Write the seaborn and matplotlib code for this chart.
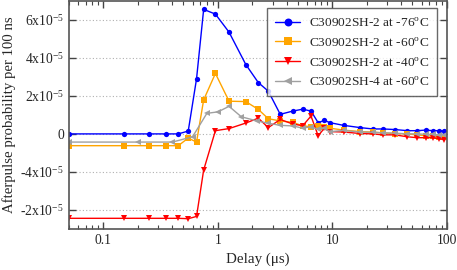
import matplotlib
matplotlib.use("Agg")
import matplotlib.pyplot as plt
import matplotlib.ticker as ticker
import pandas as pd
import seaborn as sns

# values in units of 1e-5 (afterpulse probability per 100 ns)
delay_main = [0.05, 0.15, 0.25, 0.35, 0.45, 0.55, 0.65, 0.75, 0.95, 1.25, 1.75, 2.25, 2.75,
              3.5, 4.5, 5.5, 6.5, 7.5, 8.5, 9.5, 12.5, 17.5, 22.5, 27.5, 35, 45, 55, 65, 75, 85, 95]
sh2_m76 = [0.0, 0.0, 0.0, 0.0, 0.0, 0.15, 2.9, 6.55, 6.3, 5.35, 3.65, 2.7, 2.25,
           1.03, 1.2, 1.3, 1.2, 0.59, 0.71, 0.59, 0.45, 0.33, 0.26, 0.26, 0.23, 0.17, 0.17, 0.2, 0.17, 0.17, 0.15]
sh2_m60 = [-0.62, -0.62, -0.62, -0.62, -0.62, -0.22, -0.43, 1.79, 3.18, 1.72, 1.7, 1.29, 0.8,
           0.68, 0.61, 0.42, 0.38, 0.42, 0.35, 0.3, 0.2, 0.12, 0.1, 0.05, 0.02, 0.0, -0.05, -0.1, -0.12, -0.14, -0.15]
sh2_m40 = [-4.44, -4.44, -4.44, -4.44, -4.44, -4.46, -4.34, -1.9, 0.17, 0.28, 0.57, 0.83, 0.33,
           0.76, 0.52, 0.43, 0.94, -0.1, 0.3, 0.12, 0.1, 0.02, 0.0, -0.05, -0.05, -0.15, -0.2, -0.2, -0.2, -0.25, -0.3]

delay_sh4 = [0.05, 0.2, 0.4, 0.6, 0.8, 1.0, 1.25, 1.6, 2.2, 2.75, 3.5, 4.5, 5.5, 6.5, 7.5, 8.5, 9.5,
             12.5, 17.5, 22.5, 27.5, 35, 45, 55, 65, 75, 85, 95]
sh4_m60 = [-0.43, -0.43, -0.43, -0.15, 1.08, 1.16, 1.45, 0.9, 0.68, 0.56, 0.45, 0.42, 0.3, 0.38, 0.24,
           0.3, 0.12, 0.18, 0.1, 0.08, 0.06, 0.04, 0.0, 0.0, -0.02, -0.03, -0.05, -0.05]

ytick_pos = [6, 4, 2, 0, -2, -4]
ytick_labels = ['6x10$^{\\mathregular{-5}}$', '4x10$^{\\mathregular{-5}}$', '2x10$^{\\mathregular{-5}}$', '0',
                '-4x10$^{\\mathregular{-5}}$', '-2x10$^{\\mathregular{-5}}$']
xtick_pos = [0.1, 1, 10, 100]
xtick_labels = ['0.1', '1', '10', '100']

series = [
    ("C30902SH-2 at -76$^{\\mathregular{o}}$C", delay_main, sh2_m76, "#0000ff", "o"),
    ("C30902SH-2 at -60$^{\\mathregular{o}}$C", delay_main, sh2_m60, "#ffa500", "s"),
    ("C30902SH-2 at -40$^{\\mathregular{o}}$C", delay_main, sh2_m40, "#ff0000", "v"),
    ("C30902SH-4 at -60$^{\\mathregular{o}}$C", delay_sh4, sh4_m60, "#a0a0a0", "<"),
]

sns.set_style("ticks")
plt.rcParams['font.family'] = ['Liberation Serif', 'DejaVu Serif']
plt.rcParams['mathtext.fontset'] = 'stix'

fig, ax = plt.subplots(figsize=(4.57, 2.70), dpi=100)
fig.subplots_adjust(left=0.151, right=0.978, top=0.997, bottom=0.152)

for label, xs, ys, color, marker in series:
    df = pd.DataFrame({"delay": xs, "prob": ys})
    sns.lineplot(ax=ax, x="delay", y="prob", data=df, color=color, marker=marker,
                 markersize=3.8, markeredgewidth=0, linewidth=1, label=label, estimator=None)

ax.set_xscale("log")
ax.set_xlim(0.05, 100)
ax.set_ylim(-5, 7)
ax.set_xticks(xtick_pos)
ax.set_xticklabels(xtick_labels)
ax.xaxis.set_minor_locator(ticker.LogLocator(base=10, subs=range(2, 10), numticks=20))
ax.xaxis.set_minor_formatter(ticker.NullFormatter())
ax.set_yticks(ytick_pos)
ax.set_yticklabels(ytick_labels)
ax.yaxis.grid(True, linestyle=(0, (1, 2)), color="#b0b0b0", linewidth=0.8)

ax.tick_params(which="both", direction="in", top=True, right=True, labelsize=9.8, color="#444444")
ax.tick_params(which="major", length=5, width=1)
ax.tick_params(which="minor", length=3, width=0.8)
for sp in ax.spines.values():
    sp.set_color("#555555")
    sp.set_linewidth(1.2)

ax.set_xlabel("Delay (\u03bcs)", fontsize=10.8, labelpad=4)
ax.set_ylabel("Afterpulse probability per 100 ns", fontsize=10.6, labelpad=3)

leg = ax.legend(loc="upper right", fontsize=9.6, markerscale=1.5, frameon=True, fancybox=False,
                edgecolor="#444444", borderpad=0.6, labelspacing=0.5, handlelength=1.9,
                handletextpad=0.65, borderaxespad=0.3, bbox_to_anchor=(0.985, 0.985))
leg.get_frame().set_linewidth(1.0)

plt.savefig("out.png", dpi=100)
